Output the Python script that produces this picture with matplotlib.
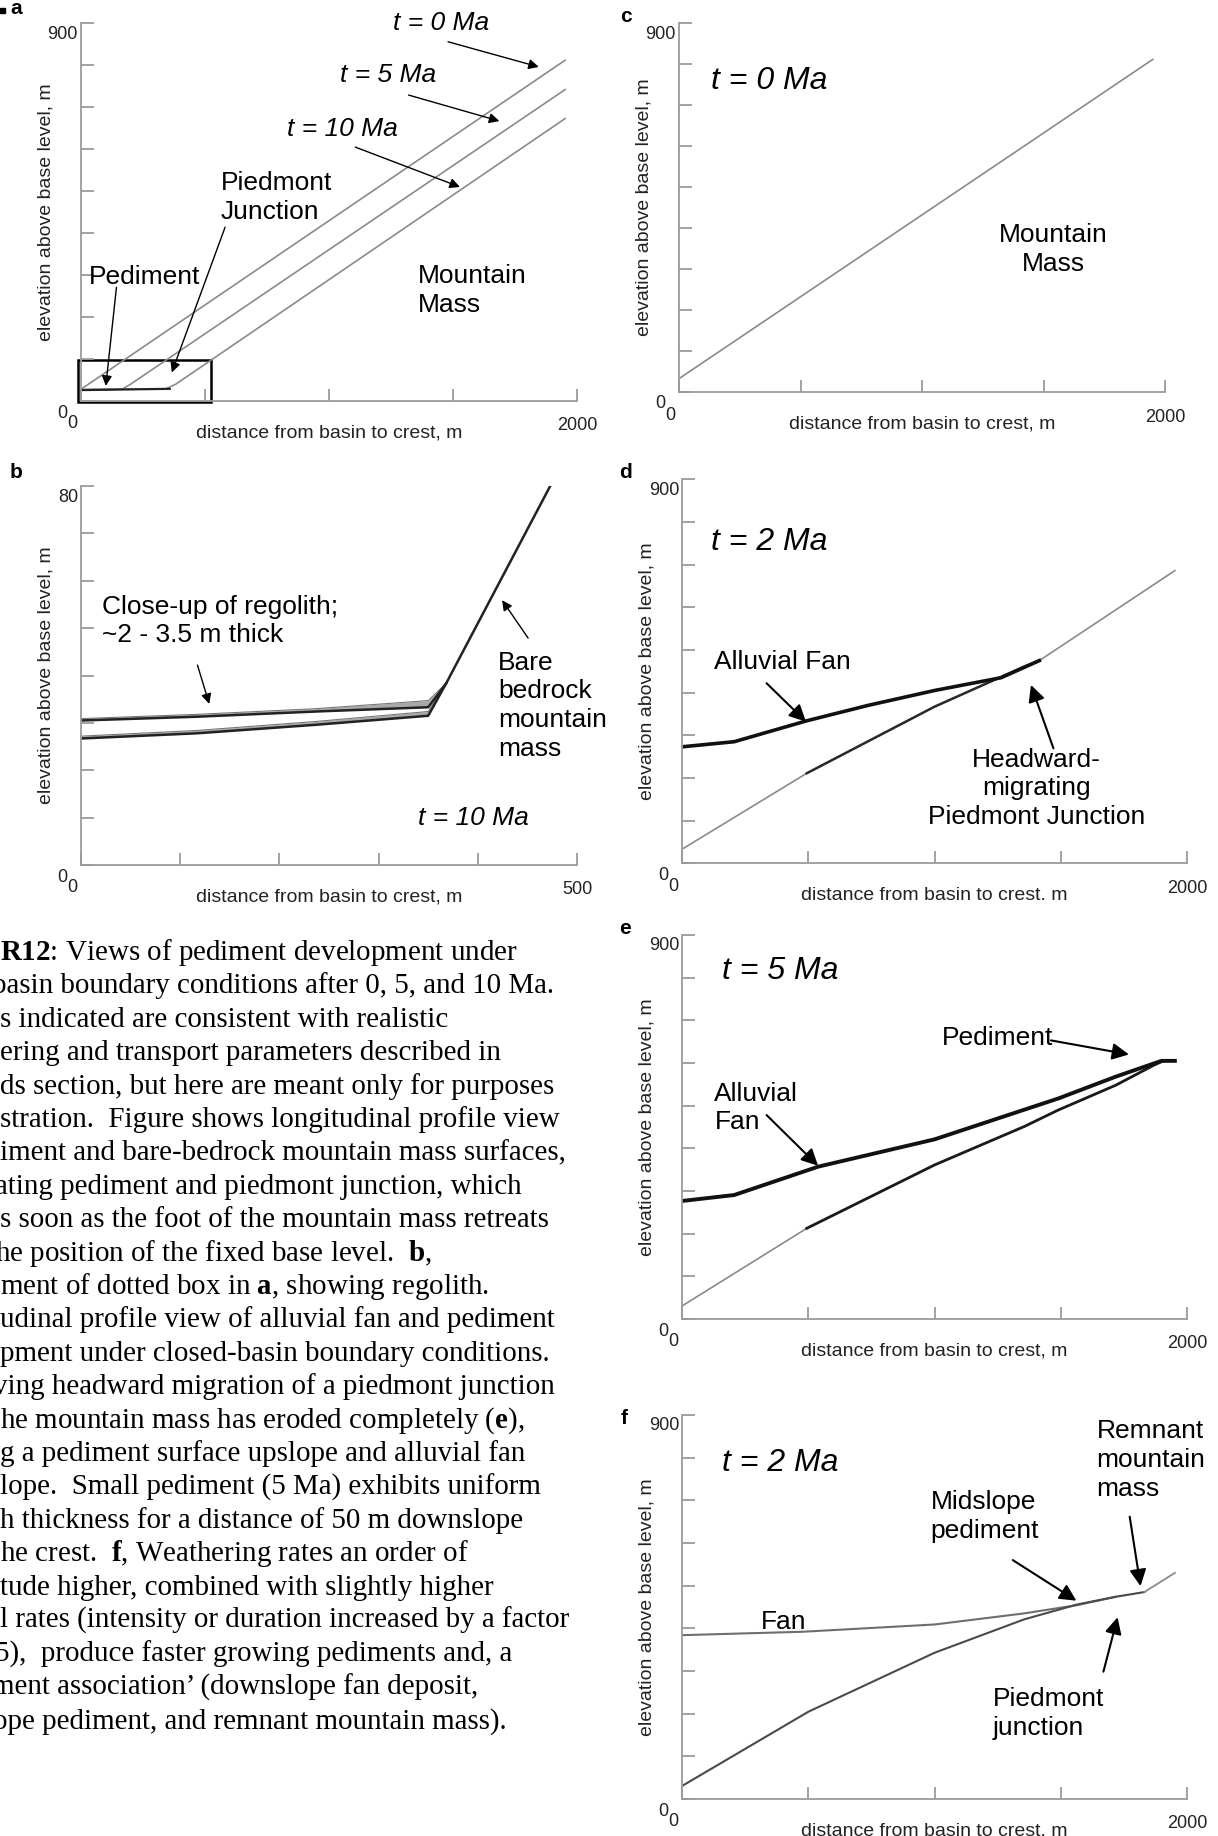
import numpy as np
import matplotlib
matplotlib.use('Agg')
import matplotlib.pyplot as plt
from matplotlib.patches import Rectangle

plt.rcParams['font.family'] = ['Liberation Sans', 'DejaVu Sans']
plt.rcParams['mathtext.fontset'] = 'custom'
plt.rcParams['mathtext.rm'] = 'Liberation Serif'
plt.rcParams['mathtext.bf'] = 'Liberation Serif:bold'
plt.rcParams['mathtext.it'] = 'Liberation Serif:italic'

# ---------------- data ----------------
# panel a: profiles at t = 0, 5, 10 Ma
a_x0 = [0, 1952];                 a_y0 = [28, 812]
a_x5 = [0, 165, 200, 1952];       a_y5 = [27, 28, 40, 742]
a_x10 = [0, 342, 382, 1952];      a_y10 = [27, 29, 40, 673]
a_ped_x = [0, 358];               a_ped_y = [26, 29]
a_box = [-13, -2, 538, 99]        # x, y, width, height of close-up box

# panel b: close-up of regolith (t = 10 Ma)
b_top_x = [0, 117, 237, 350, 368]
b_top_y = [30.5, 31.3, 32.4, 33.3, 38.3]
b_top2_y = [30.9, 31.8, 33.0, 34.7, 38.3]
b_bed_x = [0, 117, 237, 350, 368, 473]
b_bed_y = [26.7, 27.8, 29.6, 31.5, 38.3, 80]
b_bed2_y = [27.2, 28.4, 30.3, 32.4, 38.3, 80]

# panel c: t = 0 Ma
c_x = [0, 1950];                  c_y = [32.6, 812]

# panel d: t = 2 Ma
d_bed_x = [0, 494, 1000, 1355, 1415]
d_bed_y = [33, 211, 367, 461, 475]
d_mtn_x = [1415, 1952];           d_mtn_y = [475, 686]
d_fan_x = [0, 207, 494, 736, 1000, 1264, 1415]
d_fan_y = [273, 285, 334, 370, 405, 435, 475]

# panel e: t = 5 Ma
e_bed_x = [0, 494, 1000, 1355, 1491, 1718, 1869, 1899]
e_bed_y = [30.5, 212.5, 361, 451, 490, 548, 595, 603]
e_fan_x = [0, 207, 539, 1000, 1491, 1718, 1869, 1899, 1952]
e_fan_y = [276.6, 290.6, 357, 421, 517, 568, 599, 605, 605]

# panel f: t = 2 Ma (higher weathering)
f_bed_x = [0, 501, 1000, 1355, 1566, 1718, 1831]
f_bed_y = [30.5, 204.7, 342.7, 421, 456, 474, 485]
f_mtn_x = [1831, 1952];           f_mtn_y = [485, 530]
f_fan_x = [0, 479, 1000, 1355, 1566, 1718]
f_fan_y = [384, 392, 409, 435, 454.5, 474]

caption_lines = [
    r"$\mathbf{R12}$: Views of pediment development under",
    "basin boundary conditions after 0, 5, and 10 Ma.",
    "s indicated are consistent with realistic",
    "ering and transport parameters described in",
    "ds section, but here are meant only for purposes",
    "stration.  Figure shows longitudinal profile view",
    "iment and bare-bedrock mountain mass surfaces,",
    "ating pediment and piedmont junction, which",
    "s soon as the foot of the mountain mass retreats",
    r"he position of the fixed base level.  $\mathbf{b}$,",
    r"ment of dotted box in $\mathbf{a}$, showing regolith.",
    "udinal profile view of alluvial fan and pediment",
    "pment under closed-basin boundary conditions.",
    "ving headward migration of a piedmont junction",
    r"he mountain mass has eroded completely ($\mathbf{e}$),",
    "g a pediment surface upslope and alluvial fan",
    "lope.  Small pediment (5 Ma) exhibits uniform",
    "h thickness for a distance of 50 m downslope",
    r"he crest.  $\mathbf{f}$, Weathering rates an order of",
    "tude higher, combined with slightly higher",
    "l rates (intensity or duration increased by a factor",
    "5),  produce faster growing pediments and, a",
    "ment association\u2019 (downslope fan deposit,",
    "ope pediment, and remnant mountain mass).",
]
caption_shift = [0, -8, 0, 0, 0, 0, 0, -5, 0, -5, 0, 0, 0, -7, 0, 0, 0, 0, 0, 0, 0, -5, -8, -7]

# ---------------- figure ----------------
W, H = 1218, 1836
fig = plt.figure(figsize=(W / 100, H / 100), dpi=100)

def add_ax(l, t, r, b):
    return fig.add_axes([l / W, 1 - b / H, (r - l) / W, (b - t) / H])

AXC = '#9b9b9b'
LINEG = '#8a8a8a'
ANN = 19
TBIG = 23
LS = 1.25
AP = dict(arrowstyle='-|>', color='k', lw=1.0, mutation_scale=15, shrinkA=0, shrinkB=0)
APB = dict(arrowstyle='-|>', color='k', lw=1.5, mutation_scale=25, shrinkA=0, shrinkB=0)

def style(ax, xmax, ymax, xstep, ystep, ytop, xend, xlabel):
    ax.set_xlim(0, xmax)
    ax.set_ylim(0, ymax)
    for s in ('top', 'right'):
        ax.spines[s].set_visible(False)
    for s in ('left', 'bottom'):
        ax.spines[s].set_color(AXC)
        ax.spines[s].set_linewidth(1.3)
    ax.set_xticks(np.arange(0, xmax + 1, xstep))
    ax.set_yticks(np.arange(0, ymax + 1, ystep))
    ax.tick_params(direction='in', length=9, width=1.3, color=AXC,
                   labelbottom=False, labelleft=False)
    kw = dict(xycoords='axes fraction', textcoords='offset pixels', fontsize=13,
              ha='center', va='center', color='#222')
    ax.annotate('0', xy=(0, 0), xytext=(-19, -12), **kw)
    ax.annotate('0', xy=(0, 0), xytext=(-8.5, -23), **kw)
    ax.annotate(xend, xy=(1, 0), xytext=(0, -25), **kw)
    ax.annotate(ytop, xy=(0, 1), xytext=(-3, -11), **dict(kw, ha='right'))
    kw['fontsize'] = 14
    ax.annotate(xlabel, xy=(0.5, 0), xytext=(0, -32), **kw)
    ax.annotate('elevation above base level, m', xy=(0, 0.5), xytext=(-35, 0),
                rotation=90, **kw)

# ---- panel a ----
ax = add_ax(81, 23.3, 577, 401)
style(ax, 2000, 900, 500, 100, '900', '2000', 'distance from basin to crest, m')
for xs, ys in ((a_x0, a_y0), (a_x5, a_y5), (a_x10, a_y10)):
    ax.plot(xs, ys, color=LINEG, lw=1.2)
ax.plot(a_ped_x, a_ped_y, color='#222', lw=1.6)
ax.add_patch(Rectangle((a_box[0], a_box[1]), a_box[2], a_box[3], fill=False,
                       ec='k', lw=1.8, clip_on=False))
ax.text(1450, 901, 't = 0 Ma', style='italic', fontsize=ANN, ha='center', va='center')
ax.annotate('', xy=(1846, 796), xytext=(1480, 856), arrowprops=AP)
ax.text(1237, 776, 't = 5 Ma', style='italic', fontsize=ANN, ha='center', va='center')
ax.annotate('', xy=(1687, 667), xytext=(1321, 729), arrowprops=AP)
ax.text(1053, 649, 't = 10 Ma', style='italic', fontsize=ANN, ha='center', va='center')
ax.annotate('', xy=(1528, 510), xytext=(1106, 605), arrowprops=AP)
ax.text(565, 485, 'Piedmont\nJunction', fontsize=ANN, ha='left', va='center', linespacing=LS)
ax.annotate('', xy=(366, 68), xytext=(581, 414), arrowprops=AP)
ax.text(32, 296, 'Pediment', fontsize=ANN, ha='left', va='center')
ax.annotate('', xy=(100, 36), xytext=(143, 271), arrowprops=AP)
ax.text(1360, 263.5, 'Mountain\nMass', fontsize=ANN, ha='left', va='center', linespacing=LS)

# ---- panel b ----
ax = add_ax(81, 486, 577, 865)
style(ax, 500, 80, 100, 10, '80', '500', 'distance from basin to crest, m')
ax.fill_between(b_top_x, b_top_y, b_top2_y, color='#a8a8a8', lw=0)
ax.fill_between(b_bed_x, b_bed_y, b_bed2_y, color='#a8a8a8', lw=0)
ax.plot(b_top_x, b_top2_y, color='#777', lw=0.8)
ax.plot(b_bed_x, b_bed2_y, color='#777', lw=0.8)
ax.plot(b_top_x, b_top_y, color='#222', lw=1.8)
ax.plot(b_bed_x, b_bed_y, color='#222', lw=1.8)
ax.text(21, 51.5, 'Close-up of regolith;\n~2 - 3.5 m thick', fontsize=ANN,
        ha='left', va='center', linespacing=LS)
ax.annotate('', xy=(129.3, 34.0), xytext=(117.4, 42.2), arrowprops=AP)
ax.text(420.5, 33.6, 'Bare\nbedrock\nmountain\nmass', fontsize=ANN,
        ha='left', va='center', linespacing=LS)
ax.annotate('', xy=(424.5, 55.9), xytext=(450.7, 47.9), arrowprops=AP)
ax.text(340, 9.86, 't = 10 Ma', style='italic', fontsize=ANN, ha='left', va='center')

# ---- panel c ----
ax = add_ax(679, 23.3, 1165, 392)
style(ax, 2000, 900, 500, 100, '900', '2000', 'distance from basin to crest, m')
ax.plot(c_x, c_y, color=LINEG, lw=1.2)
ax.text(133, 758, 't = 0 Ma', style='italic', fontsize=TBIG, ha='left', va='center')
ax.text(1540, 347.7, 'Mountain\nMass', fontsize=ANN, ha='center', va='center',
        multialignment='center', linespacing=LS)

# ---- panel d ----
ax = add_ax(682, 479.3, 1187, 863.3)
style(ax, 2000, 900, 500, 100, '900', '2000', 'distance from basin to crest. m')
ax.plot(d_bed_x, d_bed_y, color=LINEG, lw=1.2)
ax.plot(d_bed_x[1:], d_bed_y[1:], color='#2a2a2a', lw=1.8)
ax.plot(d_mtn_x, d_mtn_y, color=LINEG, lw=1.2)
ax.plot(d_fan_x, d_fan_y, color='#111', lw=2.6)
ax.text(116, 753.8, 't = 2 Ma', style='italic', fontsize=TBIG, ha='left', va='center')
ax.text(128.5, 472.5, 'Alluvial Fan', fontsize=ANN, ha='left', va='center')
ax.annotate('', xy=(491, 332), xytext=(335, 422), arrowprops=APB)
ax.text(1403, 175.8, 'Headward-\nmigrating\nPiedmont Junction', fontsize=ANN,
        ha='center', va='center', multialignment='center', linespacing=LS)
ax.annotate('', xy=(1382, 418), xytext=(1471, 269.5), arrowprops=APB)

# ---- panel e ----
ax = add_ax(682, 935, 1187, 1319)
style(ax, 2000, 900, 500, 100, '900', '2000', 'distance from basin to crest, m')
ax.plot(e_bed_x, e_bed_y, color=LINEG, lw=1.2)
ax.plot(e_bed_x[1:], e_bed_y[1:], color='#1a1a1a', lw=2.0)
ax.plot(e_fan_x, e_fan_y, color='#111', lw=2.8)
ax.text(158.6, 816, 't = 5 Ma', style='italic', fontsize=TBIG, ha='left', va='center')
ax.text(1030, 658, 'Pediment', fontsize=ANN, ha='left', va='center')
ax.annotate('', xy=(1770, 620), xytext=(1461, 653), arrowprops=APB)
ax.text(128.5, 494.5, 'Alluvial\nFan', fontsize=ANN, ha='left', va='center', linespacing=LS)
ax.annotate('', xy=(539, 359), xytext=(335, 478), arrowprops=APB)

# ---- panel f ----
ax = add_ax(682, 1415, 1187, 1799)
style(ax, 2000, 900, 500, 100, '900', '2000', 'distance from basin to crest. m')
ax.plot(f_fan_x, f_fan_y, color='#6e6e6e', lw=1.5)
ax.plot(f_bed_x, f_bed_y, color='#4a4a4a', lw=1.5)
ax.plot(f_mtn_x, f_mtn_y, color=LINEG, lw=1.3)
ax.text(158.6, 787, 't = 2 Ma', style='italic', fontsize=TBIG, ha='left', va='center')
ax.text(312.7, 415.6, 'Fan', fontsize=ANN, ha='left', va='center')
ax.text(985, 661.7, 'Midslope\npediment', fontsize=ANN, ha='left', va='center', linespacing=LS)
ax.annotate('', xy=(1562, 464.8), xytext=(1310, 560), arrowprops=APB)
ax.text(1642, 794.6, 'Remnant\nmountain\nmass', fontsize=ANN, ha='left', va='center',
        linespacing=LS)
ax.annotate('', xy=(1816, 499), xytext=(1773, 661.7), arrowprops=APB)
ax.text(1231, 200.9, 'Piedmont\njunction', fontsize=ANN, ha='left', va='center', linespacing=LS)
ax.annotate('', xy=(1725, 426), xytext=(1669, 298.4), arrowprops=APB)

# ---- panel letters ----
for lab, (px, py) in zip('abcdef', [(16, 9), (16, 473), (626, 16), (626, 472), (625, 928), (624, 1419)]):
    fig.text(px / W, 1 - py / H, lab, fontsize=15, fontweight='bold', ha='center', va='center')
fig.patches.append(Rectangle((0, 1 - 13 / H), 5 / W, 5 / H, transform=fig.transFigure,
                             color='k', figure=fig))

# ---- caption ----
for i, (line, dx) in enumerate(zip(caption_lines, caption_shift)):
    yb = 960 + 33.4 * i
    fig.text(dx / W, 1 - yb / H, line, family='Liberation Serif', fontsize=20.9,
             ha='left', va='baseline', color='k')

fig.savefig('out.png', dpi=100)
